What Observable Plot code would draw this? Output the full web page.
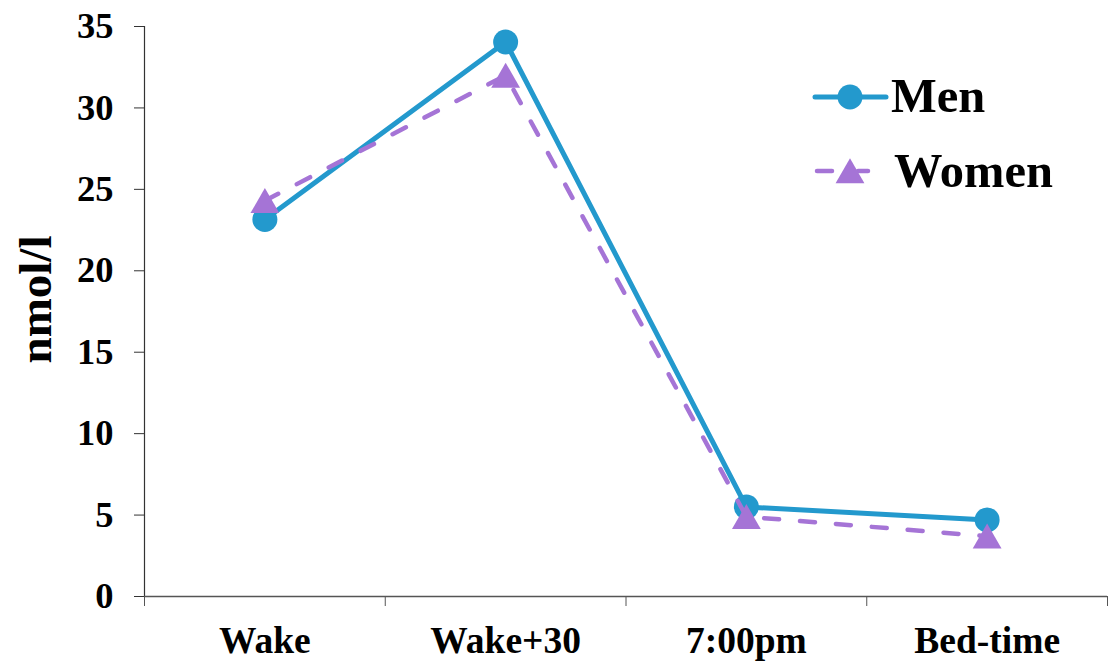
<!DOCTYPE html>
<html>
<head>
<meta charset="utf-8">
<script src="https://cdn.jsdelivr.net/npm/d3@7"></script>
<script src="https://cdn.jsdelivr.net/npm/@observablehq/plot@0.6"></script>
<style>
  html, body { margin: 0; padding: 0; background: #fff; }
  #wrap { position: relative; width: 1115px; height: 663px; font-family: "Liberation Serif", "Times New Roman", serif; font-weight: bold; }
  #legend { position: absolute; left: 0; top: 0; pointer-events: none; }
</style>
</head>
<body>
<div id="wrap"></div>
<script>
// ---- data ----
const categories = ["Wake", "Wake+30", "7:00pm", "Bed-time"];
const menValues = [23.15, 34.05, 5.5, 4.7];
const womenValues = [24.3, 32.0, 4.9, 3.7];
const yTicks = [0, 5, 10, 15, 20, 25, 30, 35];
const seriesNames = ["Men", "Women"];
const yLabel = "nmol/l";

const menColor = "#2399CD";
const womenColor = "#A574D6";

const men = categories.map((c, i) => ({i, pos: i + 0.5, cat: c, value: menValues[i]}));
const women = categories.map((c, i) => ({i, pos: i + 0.5, cat: c, value: womenValues[i]}));
const boundaries = d3.range(categories.length + 1);
const centers = categories.map((c, i) => i + 0.5);

const font = "'Liberation Serif', 'Times New Roman', serif";

const chart = Plot.plot({
  width: 1115,
  height: 663,
  marginLeft: 144,
  marginRight: 8,
  marginTop: 26,
  marginBottom: 67,
  style: {fontFamily: font, fontWeight: "bold", fontSize: "36px", color: "#000", background: "#fff"},
  x: {type: "linear", domain: [0, categories.length], axis: null},
  y: {domain: [0, 35], axis: null},
  marks: [
    Plot.ruleX([0], {stroke: "#333", strokeWidth: 1.2}),
    Plot.ruleY([0], {stroke: "#555", strokeWidth: 1.5}),
    Plot.axisY({ticks: yTicks, tickSize: 10, tickPadding: 21, fontSize: 36.5, label: null, stroke: "#333", fill: "#000"}),
    Plot.axisX({ticks: boundaries, tickSize: 10, tickFormat: () => "", label: null, stroke: "#555"}),
    Plot.axisX({ticks: centers, tickSize: 0, tickPadding: 30, fontSize: 37.5, tickFormat: d => categories[Math.round(d - 0.5)], label: null, fill: "#000"}),
    Plot.text([yLabel], {frameAnchor: "left", rotate: -90, dx: -109, dy: -12, fontSize: 47, fontWeight: "bold", fill: "#000", textAnchor: "middle"}),
    Plot.line(men, {x: "pos", y: "value", stroke: menColor, strokeWidth: 5}),
    Plot.dot(men, {x: "pos", y: "value", symbol: "circle", r: 12.5, fill: menColor, stroke: "none"}),
    Plot.line(women, {x: "pos", y: "value", stroke: womenColor, strokeWidth: 4.5, strokeDasharray: "15,21", strokeLinecap: "round"}),
    Plot.dot(women, {x: "pos", y: "value", symbol: "triangle", r: 10.7, dy: 4, fill: womenColor, stroke: "none"})
  ]
});

const wrap = document.getElementById("wrap");
wrap.appendChild(chart);

// ---- legend overlay ----
const ns = "http://www.w3.org/2000/svg";
const lg = d3.create("svg").attr("id", "legend").attr("width", 1115).attr("height", 663)
  .attr("xmlns", ns);
// Men
lg.append("line").attr("x1", 815).attr("x2", 886).attr("y1", 97).attr("y2", 97)
  .attr("stroke", menColor).attr("stroke-width", 5).attr("stroke-linecap", "round");
lg.append("circle").attr("cx", 850).attr("cy", 97).attr("r", 12.5).attr("fill", menColor);
lg.append("text").attr("x", 891).attr("y", 112).text(seriesNames[0])
  .attr("font-family", font).attr("font-weight", "bold").attr("font-size", 48.5).attr("fill", "#000");
// Women
lg.append("line").attr("x1", 817).attr("x2", 832).attr("y1", 171).attr("y2", 171)
  .attr("stroke", womenColor).attr("stroke-width", 4.5).attr("stroke-linecap", "round");
lg.append("line").attr("x1", 858).attr("x2", 868).attr("y1", 171).attr("y2", 171)
  .attr("stroke", womenColor).attr("stroke-width", 4.5).attr("stroke-linecap", "round");
lg.append("path").attr("transform", "translate(850,175)")
  .attr("d", d3.symbol(d3.symbolTriangle, Math.PI * 10.7 * 10.7)()).attr("fill", womenColor);
lg.append("text").attr("x", 894).attr("y", 187).text(seriesNames[1])
  .attr("font-family", font).attr("font-weight", "bold").attr("font-size", 48.5).attr("fill", "#000");
wrap.appendChild(lg.node());
</script>
</body>
</html>
